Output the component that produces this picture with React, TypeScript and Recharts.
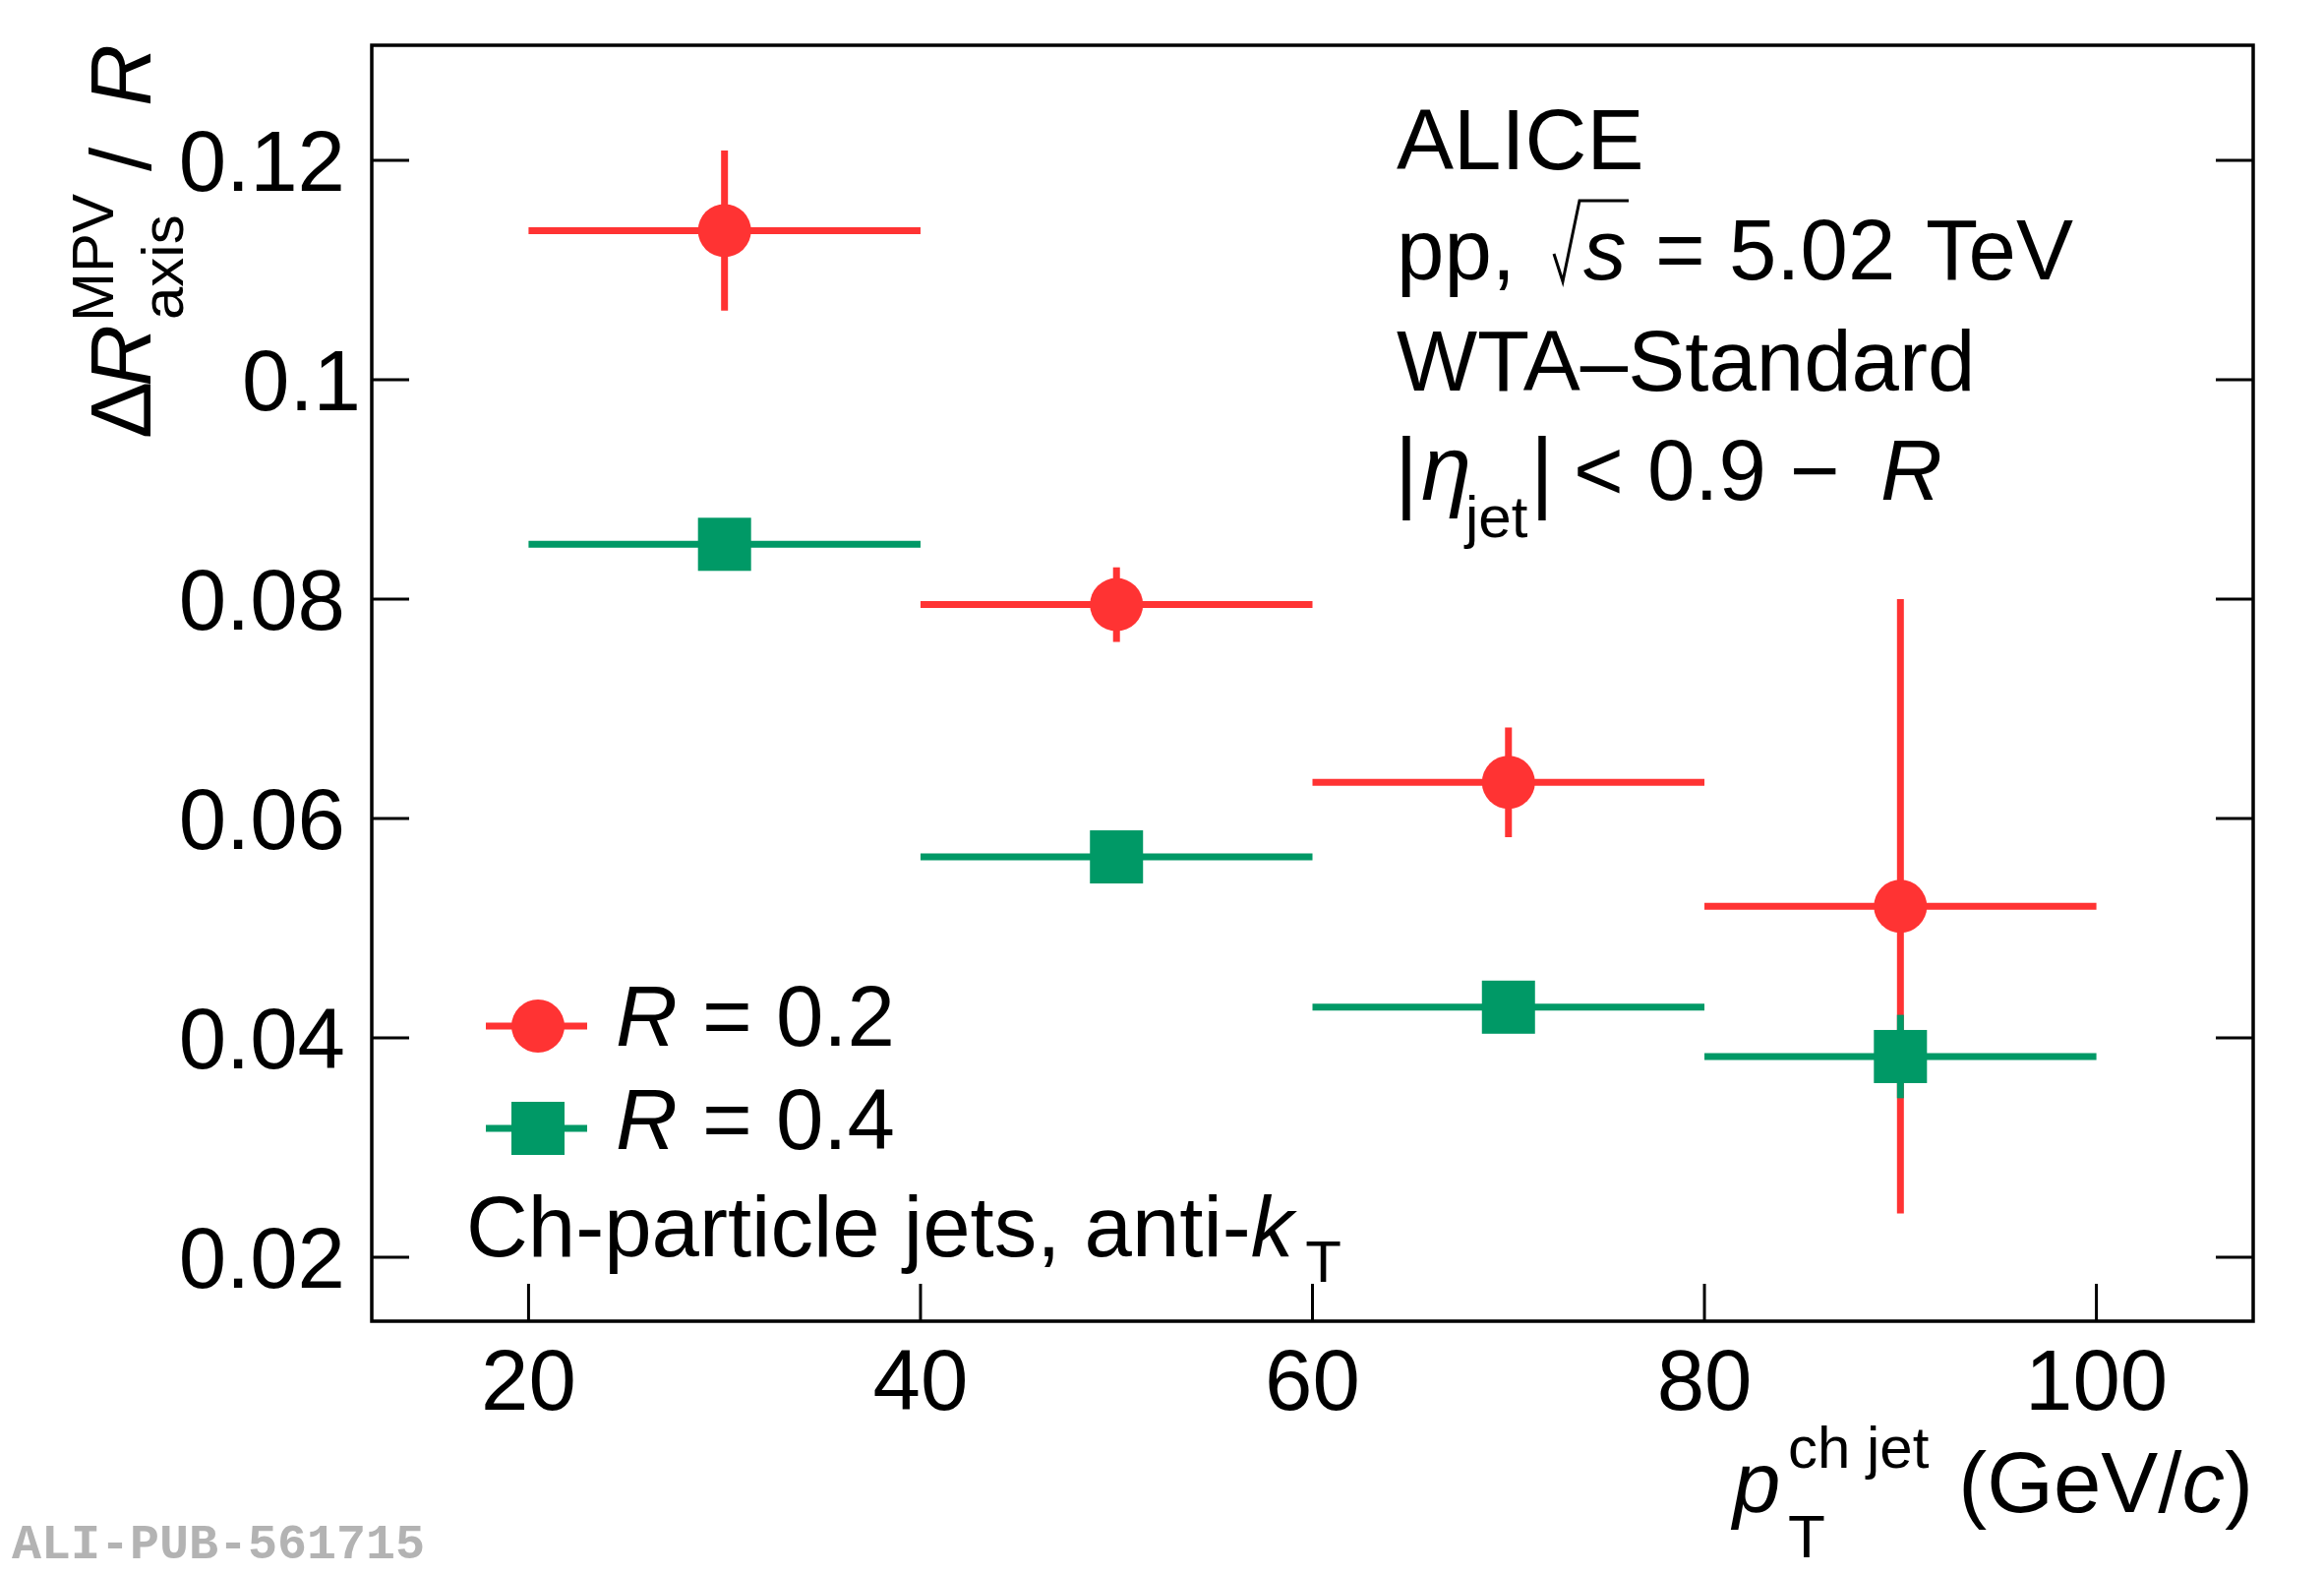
import React from 'react';
import { ComposedChart, Scatter, XAxis, YAxis, ErrorBar, ReferenceArea } from 'recharts';

// ---- data ----
const ptBinCenters = [30, 50, 70, 90];
const ptBinHalfWidths = [10, 10, 10, 10];
const r02Values = [0.1136, 0.0795, 0.0633, 0.052];
const r02Errors = [0.0073, 0.0034, 0.005, 0.028];
const r04Values = [0.085, 0.0565, 0.0428, 0.0383];
const r04Errors = [0.0012, 0.001, 0.001, 0.0038];
const xTicks = [20, 40, 60, 80, 100];
const yTicks = [0.02, 0.04, 0.06, 0.08, 0.1, 0.12];
const xDomain = [12, 108];
const yDomain = [0.01417, 0.1305];

const W = 2363;
const H = 1601;
const FONT = "'Liberation Sans', Arial, Helvetica, sans-serif";
const RED = '#FF3333';
const GREEN = '#009966';
const TICK_LEN = 38;

const buildSeries = (vals: number[], errs: number[]) =>
  ptBinCenters.map((x, i) => ({ x, y: vals[i], ex: ptBinHalfWidths[i], ey: errs[i] }));

const r02Data = buildSeries(r02Values, r02Errors);
const r04Data = buildSeries(r04Values, r04Errors);

const LeftTick = (props: any) => {
  const { x, y, payload } = props;
  const label = String(payload.value);
  const inkShift = label.endsWith('1') ? 16 : 0;
  return (
    <g>
      <line x1={x} x2={x + TICK_LEN} y1={y} y2={y} stroke="#000" strokeWidth={3} />
      <text x={x - 27 + inkShift} y={y} dy={31} textAnchor="end" fontFamily={FONT} fontSize={87} fill="#000">
        {label}
      </text>
    </g>
  );
};

const RightTick = (props: any) => {
  const { x, y } = props;
  return <line x1={x - TICK_LEN} x2={x} y1={y} y2={y} stroke="#000" strokeWidth={3} />;
};

const BottomTick = (props: any) => {
  const { x, y, payload } = props;
  return (
    <g>
      <line x1={x} x2={x} y1={y} y2={y - TICK_LEN} stroke="#000" strokeWidth={3} />
      <text x={x} y={y + 90} textAnchor="middle" fontFamily={FONT} fontSize={87} fill="#000">
        {String(payload.value)}
      </text>
    </g>
  );
};

const CircleShape = (p: any) => <circle cx={p.cx} cy={p.cy} r={27} fill={RED} />;
const SquareShape = (p: any) => <rect x={p.cx - 27} y={p.cy - 27} width={54} height={54} fill={GREEN} />;

const T = (props: any) => <text fontFamily={FONT} fill="#000" fontSize={87} {...props} />;

const Overlay = () => (
  <svg
    width={W}
    height={H}
    style={{ position: 'absolute', left: 0, top: 0, pointerEvents: 'none' }}
  >
    {/* Y axis title (rotated) */}
    <g transform="rotate(-90)">
      <T x={-446} y={153}>Δ</T>
      <T x={-393} y={153} fontStyle="italic">R</T>
      <T x={-327} y={115} fontSize={60}>MPV</T>
      <T x={-325} y={186} fontSize={60}>axis</T>
      <T x={-174} y={153}>/</T>
      <T x={-108} y={153} fontStyle="italic">R</T>
    </g>

    {/* X axis title */}
    <T x={1762} y={1537} fontStyle="italic">p</T>
    <T x={1818} y={1492} fontSize={60}>ch jet</T>
    <T x={1818} y={1583} fontSize={62}>T</T>
    <T x={2291} y={1537} textAnchor="end">
      (GeV/<tspan fontStyle="italic">c</tspan>)
    </T>

    {/* ALICE block */}
    <T x={1420} y={172}>ALICE</T>
    <T x={1420} y={284}>pp,</T>
    <polyline points="1580,258 1589,286 1606,204 1656,204" fill="none" stroke="#000" strokeWidth={3} />
    <T x={1610} y={284} fontStyle="italic">s</T>
    <T x={1683} y={284}>= 5.02</T>
    <T x={1958} y={284}>TeV</T>
    <T x={1420} y={397}>WTA–Standard</T>
    <T x={1418} y={510} fontSize={92}>|</T>
    <T x={1445} y={508} fontStyle="italic" fontSize={92}>η</T>
    <T x={1490} y={546} fontSize={60}>jet</T>
    <T x={1556} y={510} fontSize={92}>|</T>
    <T x={1600} y={508}>{'< 0.9 − '}</T>
    <T x={1912} y={508} fontStyle="italic">R</T>

    {/* Legend */}
    <line x1={494} x2={597} y1={1043} y2={1043} stroke={RED} strokeWidth={7} />
    <circle cx={547} cy={1043} r={27} fill={RED} />
    <T x={626} y={1063} fontStyle="italic">R</T>
    <T x={714} y={1063}>= 0.2</T>
    <line x1={494} x2={597} y1={1147} y2={1147} stroke={GREEN} strokeWidth={7} />
    <rect x={520} y={1120} width={54} height={54} fill={GREEN} />
    <T x={626} y={1168} fontStyle="italic">R</T>
    <T x={714} y={1168}>= 0.4</T>
    <T x={474} y={1277}>
      Ch-particle jets, anti-<tspan fontStyle="italic">k</tspan>
      <tspan dx={12} dy={26} fontSize={60}>T</tspan>
    </T>

    {/* Watermark */}
    <text
      x={12}
      y={1584}
      fontFamily="'Liberation Mono', 'DejaVu Sans Mono', monospace"
      fontWeight="bold"
      fontSize={50}
      fill="#b3b3b3"
    >
      ALI-PUB-561715
    </text>
  </svg>
);

export default function App() {
  return (
    <div style={{ position: 'absolute', left: 0, top: 0, width: W, height: H, background: '#fff' }}>
      <ComposedChart
        width={W}
        height={H}
        margin={{ top: 46, right: 71, bottom: 257, left: 377 }}
      >
        <XAxis
          type="number"
          dataKey="x"
          domain={xDomain}
          ticks={xTicks}
          allowDataOverflow
          interval={0}
          height={1}
          tickSize={0}
          tickMargin={0}
          tickLine={false}
          axisLine={false}
          tick={<BottomTick />}
        />
        <YAxis
          yAxisId="left"
          type="number"
          dataKey="y"
          domain={yDomain}
          ticks={yTicks}
          allowDataOverflow
          interval={0}
          width={1}
          tickSize={0}
          tickMargin={0}
          tickLine={false}
          axisLine={false}
          tick={<LeftTick />}
        />
        <YAxis
          yAxisId="right"
          orientation="right"
          type="number"
          domain={yDomain}
          ticks={yTicks}
          allowDataOverflow
          interval={0}
          width={1}
          tickSize={0}
          tickMargin={0}
          tickLine={false}
          axisLine={false}
          tick={<RightTick />}
        />
        <Scatter
          name="R = 0.2"
          yAxisId="left"
          data={r02Data}
          dataKey="y"
          fill={RED}
          shape={CircleShape}
          isAnimationActive={false}
        >
          <ErrorBar dataKey="ex" direction="x" width={0} stroke={RED} strokeWidth={7} isAnimationActive={false} />
          <ErrorBar dataKey="ey" direction="y" width={0} stroke={RED} strokeWidth={7} isAnimationActive={false} />
        </Scatter>
        <Scatter
          name="R = 0.4"
          yAxisId="left"
          data={r04Data}
          dataKey="y"
          fill={GREEN}
          shape={SquareShape}
          isAnimationActive={false}
        >
          <ErrorBar dataKey="ex" direction="x" width={0} stroke={GREEN} strokeWidth={7} isAnimationActive={false} />
          <ErrorBar dataKey="ey" direction="y" width={0} stroke={GREEN} strokeWidth={7} isAnimationActive={false} />
        </Scatter>
        <ReferenceArea
          yAxisId="left"
          x1={xDomain[0]}
          x2={xDomain[1]}
          y1={yDomain[0]}
          y2={yDomain[1]}
          fill="none"
          fillOpacity={0}
          stroke="#000"
          strokeWidth={3.5}
          ifOverflow="visible"
        />
      </ComposedChart>
      <Overlay />
    </div>
  );
}
